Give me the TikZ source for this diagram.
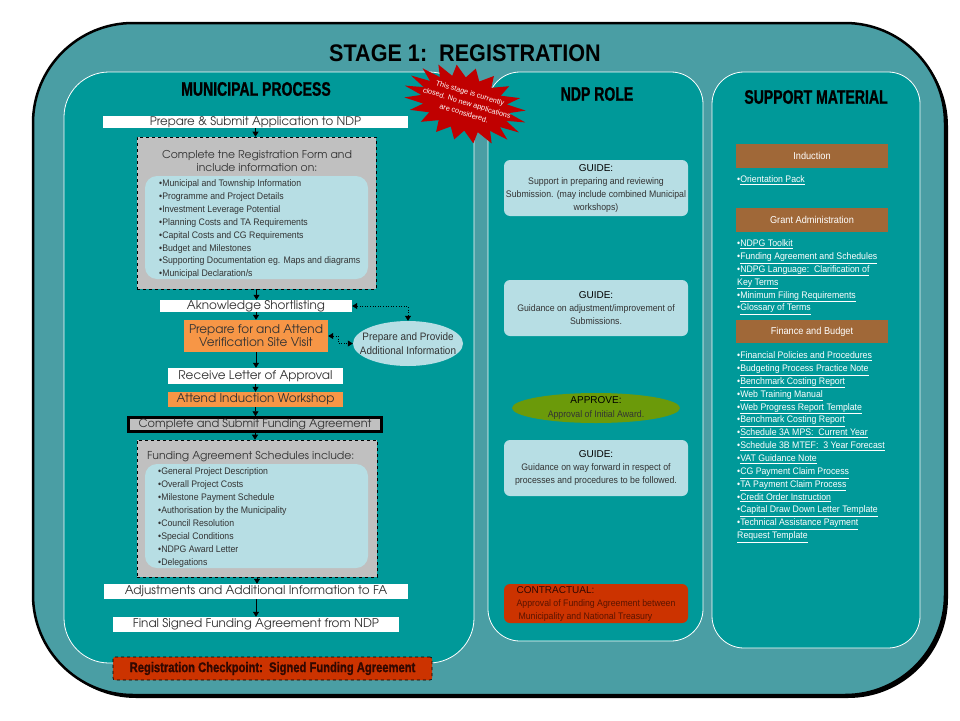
\documentclass[tikz,border=0pt]{standalone}
\usepackage{fontspec}
\setmainfont{Liberation Sans}
\newfontfamily\narrowfont[FakeStretch=0.92]{Liberation Sans}
\newfontfamily\headfont[FakeStretch=0.72,FakeBold=1]{Liberation Sans}
\newfontfamily\checkfont[FakeStretch=0.8,FakeBold=1]{Liberation Sans}
\newfontfamily\titlefont[FakeStretch=0.9]{Liberation Sans}
\newfontfamily\flowfont{texgyreadventor-regular.otf}
\usetikzlibrary{positioning,arrows.meta,calc,shapes.geometric}
\definecolor{figouter}{RGB}{74,158,164}
\definecolor{figteal}{RGB}{0,153,153}
\definecolor{figsilver}{RGB}{192,192,192}
\definecolor{figblue}{RGB}{183,222,228}
\definecolor{figorange}{RGB}{247,150,70}
\definecolor{figred}{RGB}{204,51,0}
\definecolor{figstar}{RGB}{192,0,0}
\definecolor{figgreen}{RGB}{107,154,10}
\definecolor{figbrown}{RGB}{160,104,56}
\definecolor{figtext}{gray}{0.2}
\definecolor{figdark}{RGB}{50,8,0}
\definecolor{figmaroon}{RGB}{90,20,0}
\newcommand\lnk[1]{\underline{#1}}
\newcommand\ndplead[1]{{\rmfamily\fontsize{10}{13}\selectfont\color{black}#1}}
\tikzset{
  fig/.style={x=1pt,y=-1pt},
  panel/.style={draw=white,line width=0.8pt,fill=figteal},
  head/.style={font=\headfont\bfseries\fontsize{19.5}{20}\selectfont,inner sep=0pt},
  flowbox/.style={fill=white,inner sep=0pt,align=center,text=figtext,
                  font=\flowfont\fontsize{12}{13}\selectfont},
  orangebox/.style={flowbox,fill=figorange},
  greyframe/.style={draw,dashed,line width=0.6pt,fill=figsilver,inner sep=0pt},
  listbox/.style={fill=figblue,rounded corners=12pt,inner sep=0pt},
  listtxt/.style={anchor=north west,align=left,inner sep=0pt,text=figtext,
                  font=\narrowfont\fontsize{9.5}{12.9}\selectfont},
  ndpbox/.style={fill=figblue,rounded corners=6pt,minimum width=184pt,minimum height=56pt,
                 align=center,inner sep=0pt,text=figtext,font=\narrowfont\fontsize{9.5}{13}\selectfont},
  brownbox/.style={fill=figbrown,minimum width=152pt,minimum height=24pt,inner sep=0pt,
                   text=white,font=\narrowfont\fontsize{10}{11}\selectfont},
  linktxt/.style={anchor=north west,align=left,inner sep=0pt,text=white,
                  font=\narrowfont\fontsize{9.5}{12.86}\selectfont},
}

\begin{document}
\begin{tikzpicture}[fig,
  flow/.style={-{Triangle[length=5pt,width=6pt]},line width=0.8pt},
  dotarr/.style={{Triangle[length=5pt,width=6pt]}-{Triangle[length=5pt,width=6pt]},
                 dotted,line width=0.6pt}]

\useasboundingbox (0,0) rectangle (960,720);

% frame and the three columns
\fill[black,rounded corners=100pt] (36,26) rectangle (948,698);
\draw[fill=figouter,line width=2.5pt,rounded corners=100pt] (33,23) rectangle (945,695);
\draw[panel,rounded corners=45pt] (64,72) rectangle (474,663);
\draw[panel,rounded corners=32pt] (488,72) rectangle (703,641);
\draw[panel,rounded corners=32pt] (712,72) rectangle (920,648);

\node[inner sep=0pt,font=\titlefont\bfseries\fontsize{24}{26}\selectfont] (title) at (465,53) {STAGE 1:\ \ REGISTRATION};
\node[head] (munihead) at (256,89) {MUNICIPAL PROCESS};
\node[head] (ndphead) at (597,94) {NDP ROLE};
\node[head] (supphead) at (816,97) {SUPPORT MATERIAL};

% municipal process
\node[flowbox,minimum width=305pt,minimum height=12pt,font=\flowfont\fontsize{11.8}{13}\selectfont] (apply) at (255.5,122) {Prepare \& Submit Application to NDP};
\node[greyframe,minimum width=239pt,minimum height=152pt] (form) at (256.5,213) {};
\node[flowbox,fill=none,font=\flowfont\fontsize{10.8}{13}\selectfont] (formtitle) at (257,161.5) {Complete tne Registration Form and\\include information on:};
\node[listbox,minimum width=223pt,minimum height=103pt] (formlist) at (256.5,227.5) {};
\node[listtxt] (formitems) at (159,179.5) {•Municipal and Township Information\\•Programme and Project Details\\•Investment Leverage Potential\\•Planning Costs and TA Requirements\\•Capital Costs and CG Requirements\\•Budget and Milestones\\•Supporting Documentation eg. Maps and diagrams\\•Municipal Declaration/s};

\node[flowbox,minimum width=192pt,minimum height=12pt] (ack) at (256,306) {Aknowledge Shortlisting};
\node[orangebox,minimum width=144pt,minimum height=32pt] (visit) at (256,336) {Prepare for and Attend\\Verification Site Visit};
\node[flowbox,minimum width=175pt,minimum height=16pt] (letter) at (255.5,376) {Receive Letter of Approval};
\node[orangebox,minimum width=175pt,minimum height=15pt] (induct) at (255.5,399.5) {Attend Induction Workshop};
\node[flowbox,draw,line width=2.5pt,fill=figsilver,minimum width=253pt,minimum height=14pt,
      font=\flowfont\fontsize{11.3}{13}\selectfont] (submitfa) at (255,424.5) {Complete and Submit Funding Agreement};

\node[ellipse,fill=figblue,minimum width=110pt,minimum height=45pt,inner sep=0pt] (info) at (408,343.5) {};
\node[align=center,inner sep=0pt,text=figtext,font=\narrowfont\fontsize{10.8}{13.5}\selectfont] (infotxt) at (info) {Prepare and Provide\\Additional Information};

\node[greyframe,minimum width=240pt,minimum height=137pt] (sched) at (257,508.5) {};
\node[flowbox,fill=none,anchor=west,font=\flowfont\fontsize{10.9}{13}\selectfont] (schedtitle) at (147,457) {Funding Agreement Schedules include:};
\node[listbox,minimum width=223pt,minimum height=104pt] (schedlist) at (256.5,516) {};
\node[listtxt,font=\narrowfont\fontsize{9.5}{13}\selectfont] (scheditems) at (158,467.5) {•General Project Description\\•Overall Project Costs\\•Milestone Payment Schedule\\•Authorisation by the Municipality\\•Council Resolution\\•Special Conditions\\•NDPG Award Letter\\•Delegations};

\node[flowbox,minimum width=304pt,minimum height=15pt] (adjust) at (256,591.5) {Adjustments and Additional Information to FA};
\node[flowbox,minimum width=286pt,minimum height=15pt] (final) at (256,624.5) {Final Signed Funding Agreement from NDP};

\node[draw,dashed,line width=0.6pt,fill=figred,rounded corners=2pt,minimum width=319pt,minimum height=23pt,
      inner sep=0pt,text=figdark,font=\checkfont\bfseries\fontsize{14}{16}\selectfont] (checkpoint) at (272.5,668.5) {Registration Checkpoint:\ \ Signed Funding Agreement};

\foreach \a/\b in {apply/form,form/ack,ack/visit,visit/letter,letter/induct,induct/submitfa,submitfa/sched,sched/adjust,adjust/final}
  \draw[flow] (\a.south) -- (\a.south |- \b.north);
\draw[dotarr] (ack.east) -| (info.north);
\draw[dotarr] (visit.east) -- ++(10,0) |- (info.west);

% closed notice
\begin{scope}[shift={(465,104)},rotate=-17]
  \fill[figstar] (0:63 and 37) \foreach \i [evaluate=\i as \rx using {ifthenelse(mod(\i,2)==0,63,45)},
        evaluate=\i as \ry using {ifthenelse(mod(\i,2)==0,37,26)}] in {1,...,39} { -- ({\i*9}:{\rx} and {\ry}) } -- cycle;
\end{scope}
\node[rotate=-17,align=center,inner sep=0pt,text=white,font=\fontsize{7.3}{10.5}\selectfont] (closed) at (467,103) {This stage is currently\\closed. No new applications\\are considered.};

% NDP role
\node[ndpbox] (guide1) at (596,188) {\ndplead{GUIDE:}\\Support in preparing and reviewing\\Submission. (may include combined Municipal\\workshops)};
\node[ndpbox] (guide2) at (596,308) {\ndplead{GUIDE:}\\Guidance on adjustment/improvement of\\Submissions.};
\node[ellipse,fill=figgreen,minimum width=168pt,minimum height=30pt,inner sep=0pt] (approve) at (596,408) {};
\node[align=center,inner sep=0pt,text=figtext,font=\narrowfont\fontsize{9.5}{14}\selectfont] (approvetxt) at (approve) {\ndplead{APPROVE:}\\Approval of Initial Award.};
\node[ndpbox] (guide3) at (596,468) {\ndplead{GUIDE:}\\Guidance on way forward in respect of\\processes and procedures to be followed.};
\node[fill=figred,rounded corners=6pt,minimum width=184pt,minimum height=39pt,inner sep=0pt,
      align=left,text=figmaroon,font=\narrowfont\fontsize{9.5}{13}\selectfont] (contract) at (596,603.5)
      {\ndplead{\color{figdark}CONTRACTUAL:}\\Approval of Funding Agreement between\\\hspace*{2pt}Municipality and National Treasury};

% support material
\node[brownbox] (induction) at (812,156) {Induction};
\node[linktxt] (inductlinks) at (737,175.5) {•\lnk{Orientation Pack}};
\node[brownbox] (grantadmin) at (812,220) {Grant Administration};
\node[linktxt] (grantlinks) at (737,239.5) {•\lnk{NDPG Toolkit}\\•\lnk{Funding Agreement and Schedules}\\•\lnk{NDPG Language:\ \ Clarification of}\\\lnk{Key Terms}\\•\lnk{Minimum Filing Requirements}\\•\lnk{Glossary of Terms}};
\node[brownbox,minimum height=23pt] (finance) at (812,331.5) {Finance and Budget};
\node[linktxt] (financelinks) at (737,351.5) {•\lnk{Financial Policies and Procedures}\\•\lnk{Budgeting Process Practice Note}\\•\lnk{Benchmark Costing Report}\\•\lnk{Web Training Manual}\\•\lnk{Web Progress Report Template}\\•\lnk{Benchmark Costing Report}\\•\lnk{Schedule 3A MPS:\ \ Current Year}\\•\lnk{Schedule 3B MTEF:\ \ 3 Year Forecast}\\•\lnk{VAT Guidance Note}\\•\lnk{CG Payment Claim Process}\\•\lnk{TA Payment Claim Process}\\•\lnk{Credit Order Instruction}\\•\lnk{Capital Draw Down Letter Template}\\•\lnk{Technical Assistance Payment}\\\lnk{Request Template}};

\end{tikzpicture}
\end{document}
